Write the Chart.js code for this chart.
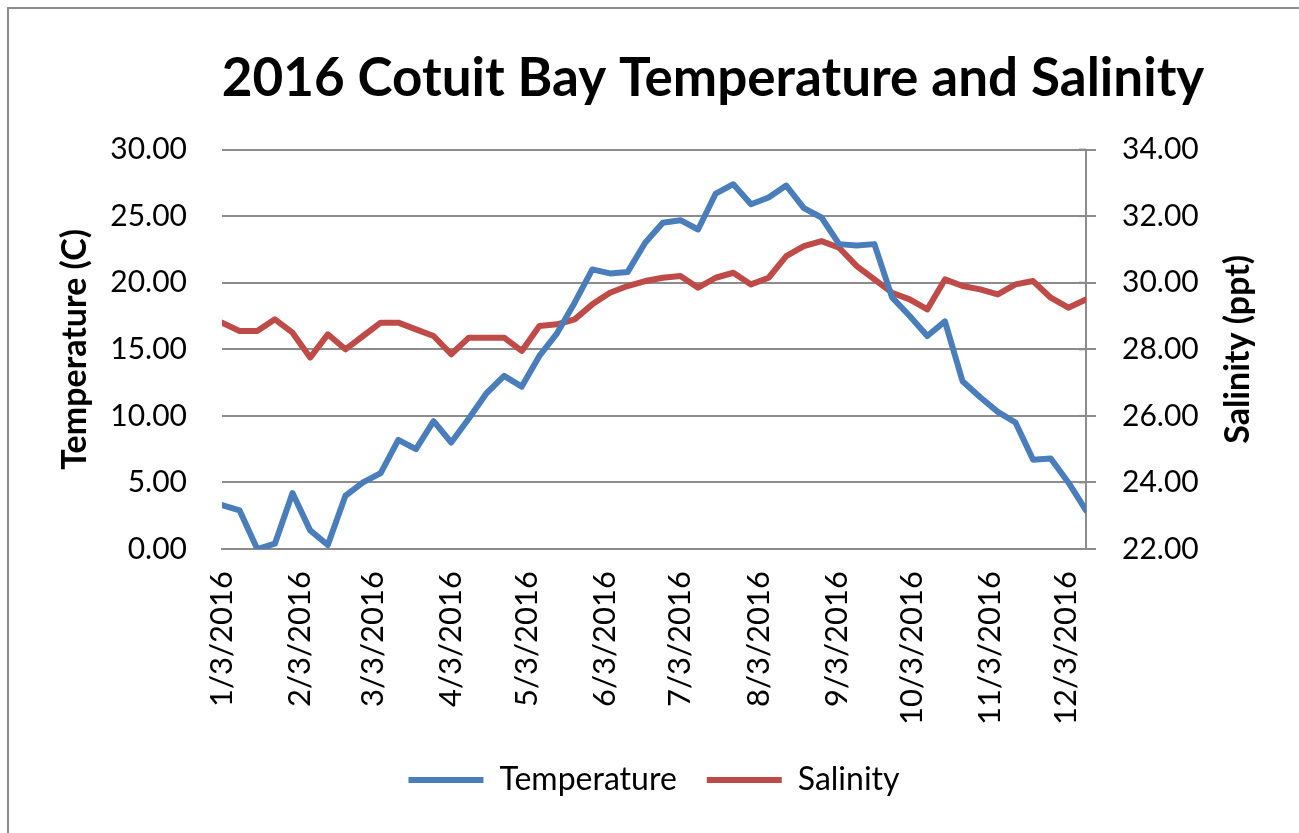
<!DOCTYPE html>
<html>
<head>
<meta charset="utf-8">
<script src="https://cdn.jsdelivr.net/npm/chart.js@4.4.0/dist/chart.umd.min.js"></script>
<style>
html, body { margin: 0; padding: 0; background: #fff; overflow: hidden; width: 1299px; height: 833px; }
#frame { position: absolute; left: 7px; top: 7px; width: 1500px; height: 1000px; border: 2px solid #8c8c8c; }
#c { position: absolute; left: 0; top: 0; }
</style>
</head>
<body>
<div id="frame"></div>
<canvas id="c" width="1375" height="833"></canvas>
<script>
// ── data ──
const dates = [
    '1/3/2016', '1/10/2016', '1/17/2016', '1/24/2016', '1/31/2016',
    '2/7/2016', '2/14/2016', '2/21/2016', '2/28/2016',
    '3/6/2016', '3/13/2016', '3/20/2016', '3/27/2016',
    '4/3/2016', '4/10/2016', '4/17/2016', '4/24/2016',
    '5/1/2016', '5/8/2016', '5/15/2016', '5/22/2016', '5/29/2016',
    '6/5/2016', '6/12/2016', '6/19/2016', '6/26/2016',
    '7/3/2016', '7/10/2016', '7/17/2016', '7/24/2016', '7/31/2016',
    '8/7/2016', '8/14/2016', '8/21/2016', '8/28/2016',
    '9/4/2016', '9/11/2016', '9/18/2016', '9/25/2016',
    '10/2/2016', '10/9/2016', '10/16/2016', '10/23/2016', '10/30/2016',
    '11/6/2016', '11/13/2016', '11/20/2016', '11/27/2016',
    '12/4/2016', '12/11/2016'
];
const temperature = [
    3.3, 2.9, 0.0, 0.4, 4.2, 1.4, 0.3, 4.0, 5.0, 5.7,
    8.2, 7.5, 9.6, 8.0, 9.8, 11.7, 13.0, 12.2, 14.5, 16.2,
    18.5, 21.0, 20.7, 20.8, 23.0, 24.5, 24.7, 24.0, 26.7, 27.4,
    25.9, 26.4, 27.3, 25.6, 24.9, 22.9, 22.8, 22.9, 18.9, 17.5,
    16.0, 17.1, 12.6, 11.4, 10.3, 9.5, 6.7, 6.8, 5.0, 2.9
];
const salinity = [
    28.8, 28.55, 28.55, 28.9, 28.5, 27.75, 28.45, 28.0, 28.4, 28.8,
    28.8, 28.6, 28.4, 27.85, 28.35, 28.35, 28.35, 27.95, 28.7, 28.75,
    28.9, 29.35, 29.7, 29.9, 30.05, 30.15, 30.2, 29.85, 30.15, 30.3,
    29.95, 30.15, 30.8, 31.1, 31.25, 31.05, 30.5, 30.1, 29.7, 29.5,
    29.2, 30.1, 29.9, 29.8, 29.65, 29.95, 30.05, 29.55, 29.25, 29.5
];
const tickDates = [
    '1/3/2016', '2/3/2016', '3/3/2016', '4/3/2016', '5/3/2016', '6/3/2016',
    '7/3/2016', '8/3/2016', '9/3/2016', '10/3/2016', '11/3/2016', '12/3/2016'
];

const FONT = 'Lato';
const BLUE = '#4a7ebb';
const RED = '#be4b48';
const GRID = '#8c8c8c';

function dayNum(s) {
    const [m, d, y] = s.split('/').map(Number);
    return Math.round((Date.UTC(y, m - 1, d) - Date.UTC(2016, 0, 3)) / 86400000);
}

// right axis title reads bottom-to-top, plus crossing ticks on the right axis
const extras = {
    id: 'extras',
    afterDraw(chart) {
        const ctx = chart.ctx;
        const a = chart.chartArea;
        const s = chart.scales.y1;
        ctx.save();
        ctx.strokeStyle = GRID;
        ctx.lineWidth = 2;
        s.ticks.forEach(t => {
            const y = s.getPixelForValue(t.value);
            ctx.beginPath();
            ctx.moveTo(a.right - 7, y);
            ctx.lineTo(a.right, y);
            ctx.stroke();
        });
        ctx.translate(1238, (a.top + a.bottom) / 2);
        ctx.rotate(-Math.PI / 2);
        ctx.font = 'bold 34px ' + FONT;
        ctx.fillStyle = '#000';
        ctx.textAlign = 'center';
        ctx.textBaseline = 'middle';
        ctx.fillText('Salinity (ppt)', 0, 0);
        ctx.restore();
    }
};

new Chart(document.getElementById('c'), {
    type: 'line',
    data: {
        datasets: [{
            label: 'Temperature',
            data: dates.map((d, i) => ({ x: dayNum(d), y: temperature[i] })),
            borderColor: BLUE,
            backgroundColor: BLUE,
            borderWidth: 6,
            borderJoinStyle: 'round',
            borderCapStyle: 'round',
            pointRadius: 0,
            tension: 0,
            yAxisID: 'y'
        }, {
            label: 'Salinity',
            data: dates.map((d, i) => ({ x: dayNum(d), y: salinity[i] })),
            borderColor: RED,
            backgroundColor: RED,
            borderWidth: 6,
            borderJoinStyle: 'round',
            borderCapStyle: 'round',
            pointRadius: 0,
            tension: 0,
            yAxisID: 'y1'
        }]
    },
    options: {
        responsive: false,
        animation: false,
        layout: {
            padding: { left: 51, right: 0, top: 0, bottom: 27 }
        },
        plugins: {
            title: {
                display: true,
                text: '2016 Cotuit Bay Temperature and Salinity',
                color: '#000',
                font: { family: FONT, size: 53, weight: 'bold' },
                padding: { top: 47, bottom: 39 }
            },
            legend: {
                position: 'bottom',
                fullSize: false,
                labels: {
                    color: '#000',
                    font: { family: FONT, size: 32 },
                    usePointStyle: true,
                    pointStyle: 'line',
                    pointStyleWidth: 75,
                    padding: 30
                }
            },
            tooltip: { enabled: false }
        },
        scales: {
            x: {
                type: 'linear',
                min: 0,
                max: dayNum(dates[dates.length - 1]),
                afterBuildTicks: s => { s.ticks = tickDates.map(d => ({ value: dayNum(d) })); },
                afterFit: s => { s.height = 185; },
                grid: { display: false, drawTicks: false },
                border: { display: true, color: GRID, width: 2 },
                ticks: {
                    autoSkip: false,
                    minRotation: 90,
                    maxRotation: 90,
                    padding: 22,
                    color: '#000',
                    font: { family: FONT, size: 31 },
                    callback: (v, i) => tickDates[i]
                }
            },
            y: {
                position: 'left',
                min: 0,
                max: 30,
                afterFit: s => { s.width = 222 - 51; },
                grid: { color: GRID, lineWidth: 2, drawTicks: false },
                border: { display: false },
                ticks: {
                    stepSize: 5,
                    padding: 35,
                    color: '#000',
                    font: { family: FONT, size: 30 },
                    callback: v => v.toFixed(2)
                },
                title: {
                    display: true,
                    text: 'Temperature (C)',
                    color: '#000',
                    font: { family: FONT, size: 34, weight: 'bold' }
                }
            },
            y1: {
                position: 'right',
                min: 22,
                max: 34,
                afterFit: s => { s.width = 1375 - 1086; },
                grid: { drawOnChartArea: false, color: GRID, lineWidth: 2, tickLength: 10 },
                border: { display: true, color: GRID, width: 2 },
                ticks: {
                    stepSize: 2,
                    padding: 26,
                    color: '#000',
                    font: { family: FONT, size: 30 },
                    callback: v => v.toFixed(2)
                }
            }
        }
    },
    plugins: [extras]
});
</script>
</body>
</html>
